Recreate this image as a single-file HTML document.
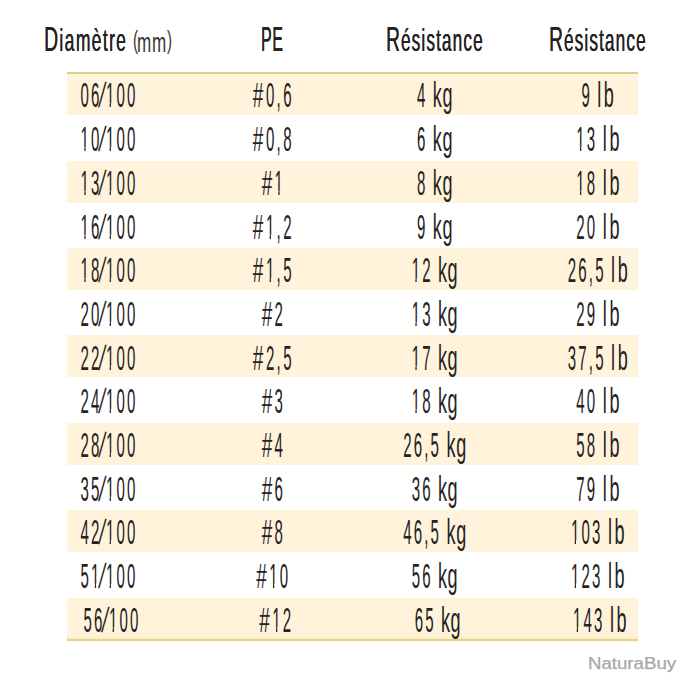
<!DOCTYPE html>
<html lang="fr"><head><meta charset="utf-8"><title>Tableau</title>
<style>
html,body{margin:0;padding:0;background:#fff}
body{position:relative;width:693px;height:690px;overflow:hidden;font-family:"Liberation Sans",sans-serif;color:#26221f}
.s{position:absolute;left:67px;width:571px;background:#fff4db}
.c{position:absolute;width:200px;text-align:center;white-space:nowrap;font-size:35.00px;line-height:1;transform:scaleX(0.430);letter-spacing:5.00px;word-spacing:-2.0px}
.hs{display:inline-block;transform:translateX(3.2px) scaleX(1.26);margin:0 5.5px 0 1.6px}
.pr{font-size:25px;position:relative;top:-3.2px}
.sl{display:inline-block;transform:scaleX(1.25) skewX(-14deg);margin:0 -2.4px 0 -2.4px}
.cap{font-size:35px;line-height:0}
.u{display:inline-block;transform:scaleX(1.2);transform-origin:0 0}
.ukg{margin-right:7.8px;letter-spacing:1.1px}
.ulb{margin-right:7px}
.one{display:inline-block;clip-path:polygon(0 0,100% 0,100% .74em,.335em .74em,.335em 100%,.25em 100%,.25em .74em,0 .74em)}
.cm{margin:0 1px 0 0}
.h{position:absolute;white-space:nowrap;line-height:1;transform-origin:0 0;text-shadow:.4px 0 0 #26221f}
.wm{position:absolute;white-space:nowrap;line-height:1;color:#a8a8a8;-webkit-text-stroke:.25px #a8a8a8;transform-origin:0 0}
</style></head><body>

<div class="s" style="top:73.10px;height:42.20px"></div>
<div class="s" style="top:160.50px;height:42.20px"></div>
<div class="s" style="top:247.90px;height:42.20px"></div>
<div class="s" style="top:335.30px;height:42.20px"></div>
<div class="s" style="top:422.70px;height:42.20px"></div>
<div class="s" style="top:510.10px;height:42.20px"></div>
<div class="s" style="top:597.50px;height:42.20px"></div>
<div style="position:absolute;left:67px;width:571px;top:72px;height:2px;background:#dccf8a"></div>
<div style="position:absolute;left:67px;width:571px;top:637px;height:2px;background:#fdefc4"></div>
<div style="position:absolute;left:67px;width:571px;top:639px;height:2px;background:#e3d48e"></div>
<div style="position:absolute;left:67px;width:571px;top:641px;height:2px;background:#fffaeb"></div>
<div class="h" style="left:44.4px;top:24.95px;font-size:31.60px;transform:scaleX(0.555);letter-spacing:2.4px"><span class="cap">D</span>iamètre</div>
<div class="h" style="left:133.0px;top:28.37px;font-size:28.50px;transform:scaleX(0.600);color:#3a3633;letter-spacing:1.2px;text-shadow:none"><span class="pr" style="margin-right:-2.8px">(</span>mm<span class="pr">)</span></div>
<div class="h" style="left:260.8px;top:24.95px;font-size:31.60px;transform:scaleX(0.452);letter-spacing:1.6px"><span class="cap">PE</span></div>
<div class="h" style="left:385.9px;top:24.95px;font-size:31.60px;transform:scaleX(0.546);letter-spacing:2px"><span class="cap">R</span>ésistance</div>
<div class="h" style="left:548.6px;top:24.95px;font-size:31.60px;transform:scaleX(0.546);letter-spacing:2px"><span class="cap">R</span>ésistance</div>
<div class="c" style="left:9.30px;top:77.47px">06<span class="sl">/</span><span class="one">1</span>00</div>
<div class="c" style="left:173.00px;top:77.47px"><span class="hs">#</span>0<span class="cm">,</span>6</div>
<div class="c" style="left:335.30px;top:77.47px">4 <span class="u ukg">kg</span></div>
<div class="c" style="left:498.90px;top:77.47px">9 <span class="u ulb">lb</span></div>
<div class="c" style="left:9.30px;top:121.15px"><span class="one">1</span>0<span class="sl">/</span><span class="one">1</span>00</div>
<div class="c" style="left:173.00px;top:121.15px"><span class="hs">#</span>0<span class="cm">,</span>8</div>
<div class="c" style="left:335.30px;top:121.15px">6 <span class="u ukg">kg</span></div>
<div class="c" style="left:498.90px;top:121.15px"><span class="one">1</span>3 <span class="u ulb">lb</span></div>
<div class="c" style="left:9.30px;top:164.83px"><span class="one">1</span>3<span class="sl">/</span><span class="one">1</span>00</div>
<div class="c" style="left:173.00px;top:164.83px"><span class="hs">#</span><span class="one">1</span></div>
<div class="c" style="left:335.30px;top:164.83px">8 <span class="u ukg">kg</span></div>
<div class="c" style="left:498.90px;top:164.83px"><span class="one">1</span>8 <span class="u ulb">lb</span></div>
<div class="c" style="left:9.30px;top:208.51px"><span class="one">1</span>6<span class="sl">/</span><span class="one">1</span>00</div>
<div class="c" style="left:173.00px;top:208.51px"><span class="hs">#</span><span class="one">1</span><span class="cm">,</span>2</div>
<div class="c" style="left:335.30px;top:208.51px">9 <span class="u ukg">kg</span></div>
<div class="c" style="left:498.90px;top:208.51px">20 <span class="u ulb">lb</span></div>
<div class="c" style="left:9.30px;top:252.19px"><span class="one">1</span>8<span class="sl">/</span><span class="one">1</span>00</div>
<div class="c" style="left:173.00px;top:252.19px"><span class="hs">#</span><span class="one">1</span><span class="cm">,</span>5</div>
<div class="c" style="left:335.30px;top:252.19px"><span class="one">1</span>2 <span class="u ukg">kg</span></div>
<div class="c" style="left:498.90px;top:252.19px">26,5 <span class="u ulb">lb</span></div>
<div class="c" style="left:9.30px;top:295.87px">20<span class="sl">/</span><span class="one">1</span>00</div>
<div class="c" style="left:173.00px;top:295.87px"><span class="hs">#</span>2</div>
<div class="c" style="left:335.30px;top:295.87px"><span class="one">1</span>3 <span class="u ukg">kg</span></div>
<div class="c" style="left:498.90px;top:295.87px">29 <span class="u ulb">lb</span></div>
<div class="c" style="left:9.30px;top:339.55px">22<span class="sl">/</span><span class="one">1</span>00</div>
<div class="c" style="left:173.00px;top:339.55px"><span class="hs">#</span>2<span class="cm">,</span>5</div>
<div class="c" style="left:335.30px;top:339.55px"><span class="one">1</span>7 <span class="u ukg">kg</span></div>
<div class="c" style="left:498.90px;top:339.55px">37,5 <span class="u ulb">lb</span></div>
<div class="c" style="left:9.30px;top:383.23px">24<span class="sl">/</span><span class="one">1</span>00</div>
<div class="c" style="left:173.00px;top:383.23px"><span class="hs">#</span>3</div>
<div class="c" style="left:335.30px;top:383.23px"><span class="one">1</span>8 <span class="u ukg">kg</span></div>
<div class="c" style="left:498.90px;top:383.23px">40 <span class="u ulb">lb</span></div>
<div class="c" style="left:9.30px;top:426.91px">28<span class="sl">/</span><span class="one">1</span>00</div>
<div class="c" style="left:173.00px;top:426.91px"><span class="hs">#</span>4</div>
<div class="c" style="left:335.30px;top:426.91px">26,5 <span class="u ukg">kg</span></div>
<div class="c" style="left:498.90px;top:426.91px">58 <span class="u ulb">lb</span></div>
<div class="c" style="left:9.30px;top:470.59px">35<span class="sl">/</span><span class="one">1</span>00</div>
<div class="c" style="left:173.00px;top:470.59px"><span class="hs">#</span>6</div>
<div class="c" style="left:335.30px;top:470.59px">36 <span class="u ukg">kg</span></div>
<div class="c" style="left:498.90px;top:470.59px">79 <span class="u ulb">lb</span></div>
<div class="c" style="left:9.30px;top:514.27px">42<span class="sl">/</span><span class="one">1</span>00</div>
<div class="c" style="left:173.00px;top:514.27px"><span class="hs">#</span>8</div>
<div class="c" style="left:335.30px;top:514.27px">46,5 <span class="u ukg">kg</span></div>
<div class="c" style="left:498.90px;top:514.27px"><span class="one">1</span>03 <span class="u ulb">lb</span></div>
<div class="c" style="left:9.30px;top:557.95px">5<span class="one">1</span><span class="sl">/</span><span class="one">1</span>00</div>
<div class="c" style="left:173.00px;top:557.95px"><span class="hs">#</span><span class="one">1</span>0</div>
<div class="c" style="left:335.30px;top:557.95px">56 <span class="u ukg">kg</span></div>
<div class="c" style="left:498.90px;top:557.95px"><span class="one">1</span>23 <span class="u ulb">lb</span></div>
<div class="c" style="left:11.80px;top:601.63px">56<span class="sl">/</span><span class="one">1</span>00</div>
<div class="c" style="left:175.50px;top:601.63px"><span class="hs">#</span><span class="one">1</span>2</div>
<div class="c" style="left:337.80px;top:601.63px">65 <span class="u ukg">kg</span></div>
<div class="c" style="left:501.40px;top:601.63px"><span class="one">1</span>43 <span class="u ulb">lb</span></div>
<div class="wm" style="left:588.2px;top:656.06px;font-size:16px;transform:scaleX(1.165)">NaturaBuy</div>
</body></html>
